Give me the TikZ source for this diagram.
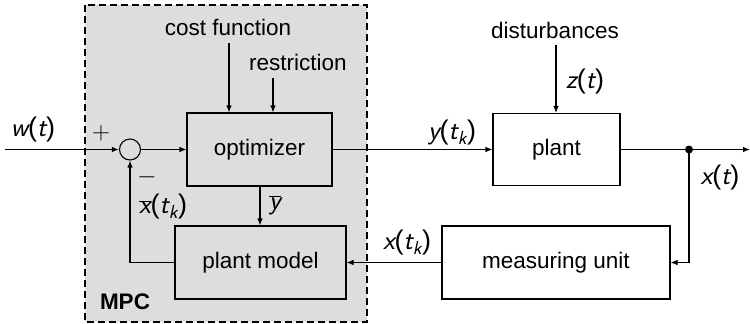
\documentclass[tikz,border=0pt]{standalone}
\usepackage{fontspec}
\setmainfont{Liberation Sans}
\usetikzlibrary{arrows.meta,calc}
\definecolor{mpcgray}{RGB}{220,221,223}
% italic sans letters for the signal names
\newcommand{\sv}[1]{{\sffamily\itshape #1}}
\newcommand{\svk}[1]{\sv{#1}\textsubscript{\sv{k}}}
\begin{document}
\begin{tikzpicture}[x=1pt,y=-1pt,
  every node/.style={font=\fontsize{22.5}{26}\selectfont},
  blockbox/.style={draw,line width=1.1pt,minimum height=73pt,inner sep=0pt},
  sig/.style={line width=1.1pt,-{Latex[length=7pt,width=5.5pt]}},
  lbl/.style={inner sep=0pt,font=\fontsize{27}{30}\selectfont}]
\useasboundingbox (0,0) rectangle (750,324);
\fill[white] (0,0) rectangle (750,324);

% controller region
\draw[fill=mpcgray,dash pattern=on 7pt off 4pt,line width=1.1pt] (85,5) rectangle (367,322);
\node[font=\fontsize{22.5}{26}\selectfont\bfseries] (mpc) at (125,302) {MPC};

% blocks
\node[blockbox,minimum width=145pt] (opt) at (259.5,149.5) {optimizer};
\node[blockbox,minimum width=171pt] (pm) at (260.5,262.5) {plant model};
\node[blockbox,fill=white,minimum width=127pt,minimum height=72pt] (plant) at (556.5,149.5) {plant};
\node[blockbox,fill=white,minimum width=228pt] (meas) at (556,262.5) {measuring unit};
\node[draw,circle,line width=1.1pt,minimum size=21pt,inner sep=0pt] (sum) at (130,149.5) {};
\fill (689,149.5) circle (4pt) coordinate (jn);

% texts above the blocks
\node (cf) at (228,27) {cost function};
\node (rs) at (298,62) {restriction};
\node (dist) at (555,30) {disturbances};
\coordinate (cfs) at (229,43);
\coordinate (rss) at (273,78);
\coordinate (dists) at (556,45);
\coordinate (win) at (5,149.5);
\coordinate (xout) at (750,149.5);
\coordinate (mcorner) at (689,262.5);
\coordinate (fcorner) at (130,262.5);

% connectors
\draw[sig,line width=1.8pt] (win) -- (sum.west);
\draw[sig] (sum.east) -- (opt.west);
\draw[sig] (cfs) -- (cfs |- opt.north);
\draw[sig] (rss) -- (rss |- opt.north);
\draw[sig] (dists) -- (dists |- plant.north);
\draw[sig] (opt.east) -- (plant.west);
\draw[sig] (plant.east) -- (xout);
\draw[sig] (jn) -- (mcorner) -- (meas.east);
\draw[sig] (meas.west) -- (pm.east);
\draw[sig] (pm.west) -- (fcorner) -- (sum.south);
\draw[sig] (opt.south -| 260,0) -- (pm.north -| 260,0);

% signal labels
\node[lbl] (lw) at (33,130) {\sv{w}(\sv{t})};
\node[lbl] (lplus) at (101,133) {$+$};
\node[lbl] (lminus) at (147,177) {$-$};
\node[lbl] (lxbar) at (163,207) {$\overline{\mbox{\sv{x}}}$(\svk{t})};
\node[lbl] (lybar) at (275,205) {$\overline{\mbox{\sv{y}}}$};
\node[lbl] (ly) at (452,133) {\sv{y}(\svk{t})};
\node[lbl] (lz) at (585,82) {\sv{z}(\sv{t})};
\node[lbl] (lx) at (720,178) {\sv{x}(\sv{t})};
\node[lbl] (lxk) at (407,243) {\sv{x}(\svk{t})};
\end{tikzpicture}
\end{document}
